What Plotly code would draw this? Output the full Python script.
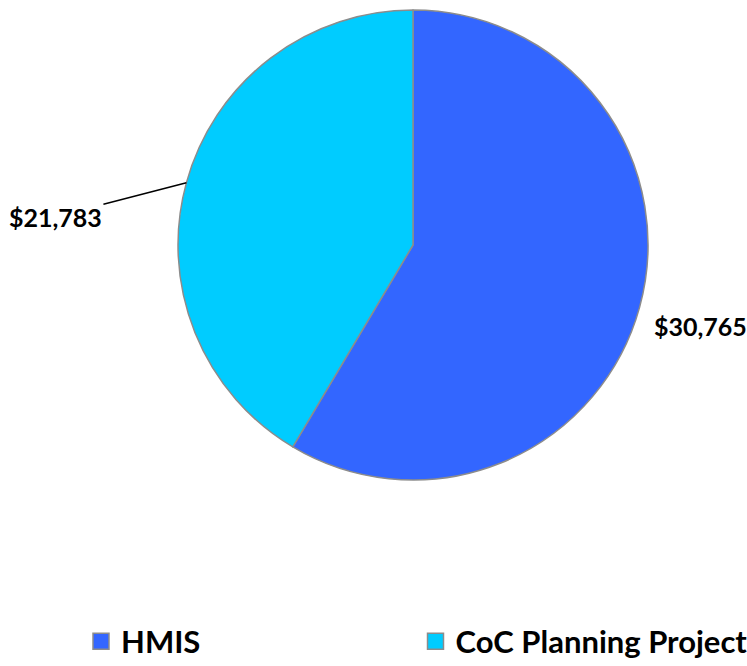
import math
import plotly.graph_objects as go

categories = ["HMIS", "CoC Planning Project"]
values = [30765, 21783]
colors = ["#3366FF", "#00CCFF"]

W, H = 747, 666
cx_px, cy_px, r_px = 413, 245, 235
edge = "#8C8C8C"

fig = go.Figure()
fig.add_trace(go.Pie(
    labels=categories,
    values=values,
    sort=False,
    direction="clockwise",
    rotation=0,
    marker=dict(colors=colors, line=dict(color=edge, width=1.5)),
    textinfo="none",
    hoverinfo="label+value",
    showlegend=False,
    domain=dict(x=[(cx_px - r_px) / W, (cx_px + r_px) / W],
                y=[1 - (cy_px + r_px) / H, 1 - (cy_px - r_px) / H]),
))

# legend entries (square swatches), one legend box per category
legend_ids = ["legend", "legend2"]
for name, col, lg in zip(categories, colors, legend_ids):
    fig.add_trace(go.Scatter(
        x=[None], y=[None], mode="markers", name=name, legend=lg,
        marker=dict(symbol="square", size=22, color=col, line=dict(color=edge, width=1.5)),
        hoverinfo="skip",
    ))

# label positions from slice mid-angles
total = sum(values)
start = 0.0
label_style = [
    dict(showarrow=False, xanchor="left", yanchor="middle", xshift=12, yshift=-19),
    dict(showarrow=True, ax=-131, ay=34, arrowhead=0, arrowwidth=1.5, arrowcolor="black",
         xanchor="center", yanchor="middle"),
]
annotations = []
for v, st in zip(values, label_style):
    frac = v / total
    mid = (start + frac / 2) * 2 * math.pi
    start += frac
    ex = cx_px + r_px * math.sin(mid)
    ey = cy_px - r_px * math.cos(mid)
    annotations.append(dict(
        x=ex / W, y=1 - ey / H, xref="paper", yref="paper",
        text=f"${v:,}",
        font=dict(family="Lato", size=25, color="black", weight="bold"),
        **st,
    ))

legend_font = dict(family="Lato", size=31, color="black", weight="bold")
fig.update_layout(
    width=W, height=H,
    margin=dict(l=0, r=0, t=0, b=0, autoexpand=False),
    paper_bgcolor="white",
    plot_bgcolor="white",
    xaxis=dict(visible=False),
    yaxis=dict(visible=False),
    annotations=annotations,
    legend=dict(orientation="h", x=81 / W, xanchor="left", y=-0.004, yanchor="bottom",
                font=legend_font, itemsizing="trace", bgcolor="rgba(0,0,0,0)"),
    legend2=dict(orientation="h", x=415.5 / W, xanchor="left", y=-0.004, yanchor="bottom",
                 font=legend_font, itemsizing="trace", bgcolor="rgba(0,0,0,0)"),
)

fig.write_html(
    "out.html",
    config={"displayModeBar": False},
    post_script="document.body.style.margin='0';document.body.style.overflow='hidden';",
)
